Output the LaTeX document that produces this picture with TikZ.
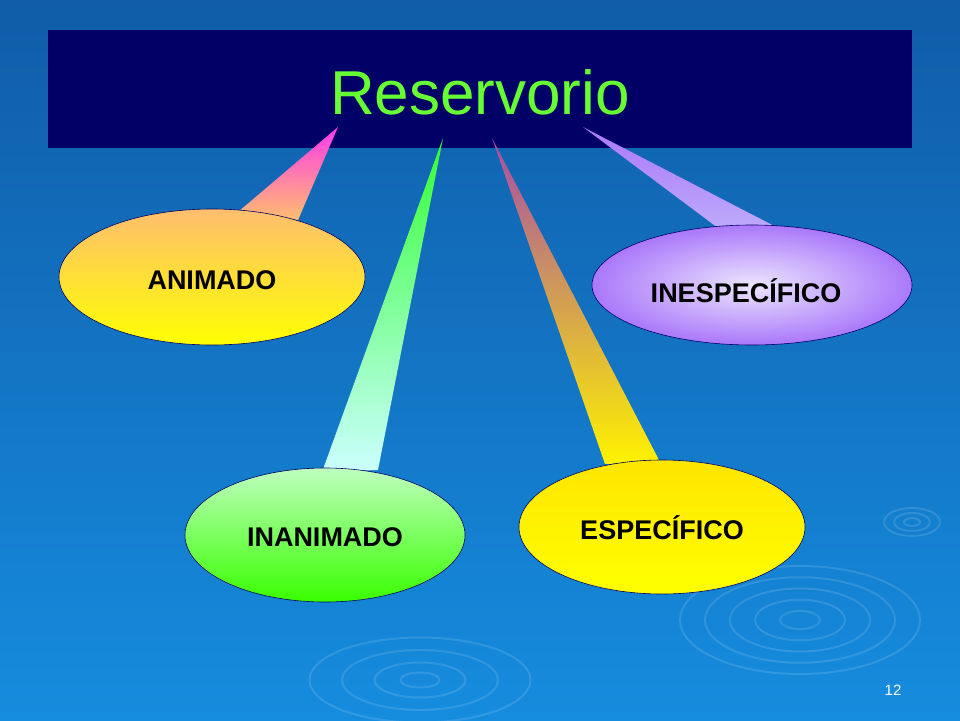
\documentclass[tikz,border=0pt]{standalone}
\usepackage{fontspec}
\setmainfont{Liberation Sans}
\usetikzlibrary{shadings}
\definecolor{navy}{RGB}{0,0,102}
\definecolor{titlegreen}{RGB}{102,255,51}
\definecolor{bgtop}{RGB}{16,92,168}
\definecolor{bgbot}{RGB}{22,140,222}
\definecolor{peach}{RGB}{255,190,110}
\definecolor{lavender}{RGB}{190,170,250}
\definecolor{lilac}{RGB}{170,120,250}
\tikzset{
  bubble/.style={draw=navy,line width=0.6pt},
  tip/.style={draw=none},
  label/.style={font=\bfseries\fontsize{27}{30}\selectfont,text=black},
  ripple/.style={draw=white,opacity=0.12,line width=2pt}
}
\begin{document}
\begin{tikzpicture}[x=1pt,y=-1pt]
\shade[top color=bgtop,bottom color=bgbot] (0,0) rectangle (960,720);
\useasboundingbox (0,0) rectangle (960,720);
% ripples
\foreach \r in {20,45,70,95,120}{
  \draw[ripple] (800,620) ellipse ({\r} and {\r*0.45});
}
\foreach \r in {15,35,60,85}{
  \draw[ripple] (420,680) ellipse ({\r*1.3} and {\r*0.5});
}
\foreach \r in {8,18,28}{
  \draw[ripple] (912,522) ellipse ({\r} and {\r*0.5});
}
% title
\fill[navy] (48,30) rectangle (912,148);
\node (title) [font=\fontsize{62}{66}\selectfont,text=titlegreen] at (480,92) {Reservorio};
% pointers
\shade[tip,top color=magenta!70!pink,bottom color=peach] (338,127) -- (238,212) -- (298,220) -- cycle;
\shade[tip,top color=green!80!white,bottom color=cyan!20!white] (443,138) -- (322,472) -- (378,470) -- cycle;
\shade[tip,top color=violet!70!white,bottom color=yellow!90!orange] (492,138) -- (605,464) -- (660,462) -- cycle;
\shade[tip,top color=lilac,bottom color=lavender] (583,127) -- (718,228) -- (782,230) -- cycle;
% bubbles
\shade[bubble,top color=peach,bottom color=yellow] (212,277) ellipse (153 and 68);
\node (animado) [label] at (212,280) {ANIMADO};
\shade[bubble,top color=green!25!white,bottom color=green!70!lime] (325,535) ellipse (140 and 67);
\node (inanimado) [label] at (325,537) {INANIMADO};
\shade[bubble,top color=yellow!80!orange,bottom color=yellow] (662,527) ellipse (143 and 67);
\node (especifico) [label] at (662,528) {ESPECÍFICO};
\shade[bubble,inner color=white!70!lavender,outer color=lilac] (752,285) ellipse (160 and 60);
\node (inespecifico) [label] at (746,291) {INESPECÍFICO};
% page number
\node (page) [text=white,font=\fontsize{15}{17}\selectfont] at (893,690) {12};
\end{tikzpicture}
\end{document}
